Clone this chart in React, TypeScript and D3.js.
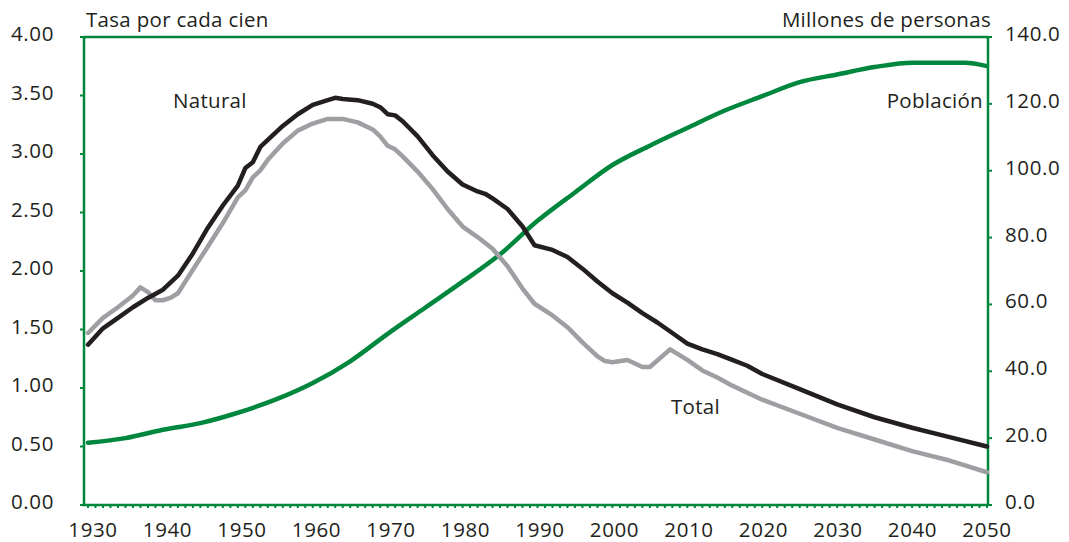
import React from "react";
import * as d3 from "d3";

const naturalYears = [1930,1932,1934,1936,1938,1940,1942,1944,1946,1948,1950,1951,1952,1953,1954,1956,1958,1960,1962,1963,1964,1966,1968,1969,1970,1971,1972,1974,1976,1978,1980,1982,1983,1984,1986,1988,1989.6,1992,1994,1996,1998,2000,2002,2004,2006,2008,2010,2012,2014,2016,2018,2020,2025,2030,2035,2040,2045,2050];
const naturalValues = [1.37,1.51,1.60,1.69,1.77,1.84,1.96,2.15,2.37,2.56,2.73,2.88,2.93,3.06,3.12,3.24,3.34,3.42,3.46,3.48,3.47,3.46,3.43,3.40,3.34,3.33,3.28,3.15,2.99,2.85,2.74,2.68,2.66,2.62,2.53,2.38,2.22,2.18,2.12,2.02,1.91,1.81,1.73,1.64,1.56,1.47,1.38,1.33,1.29,1.24,1.19,1.12,0.99,0.86,0.75,0.66,0.58,0.50];

const totalYears = [1930,1932,1934,1936,1937,1938,1939,1940,1941,1942,1944,1946,1948,1950,1951,1952,1953,1954,1956,1958,1960,1962,1964,1966,1968,1969,1970,1971,1972,1974,1976,1978,1980,1982,1984,1986,1988,1989.6,1992,1994,1996,1998,1999,2000,2002,2004,2005,2007.7,2010,2012,2014,2016,2018,2020,2025,2030,2035,2040,2045,2050];
const totalValues = [1.47,1.60,1.69,1.79,1.86,1.82,1.75,1.75,1.77,1.81,2.01,2.21,2.41,2.63,2.69,2.80,2.86,2.95,3.09,3.20,3.26,3.30,3.30,3.27,3.21,3.15,3.07,3.04,2.98,2.85,2.70,2.53,2.38,2.29,2.19,2.04,1.85,1.72,1.62,1.52,1.39,1.27,1.23,1.22,1.24,1.18,1.18,1.33,1.24,1.15,1.09,1.02,0.96,0.90,0.78,0.66,0.56,0.46,0.38,0.28];

const popYears = [1930,1935,1940,1945,1950,1955,1960,1965,1970,1975,1980,1985,1990,1995,2000,2005,2010,2015,2020,2025,2030,2035,2040,2045,2047,2050];
const popValues = [18.6,20.0,22.5,24.5,27.6,31.5,36.5,43.0,51.2,59.0,66.8,75.0,85.0,93.5,101.7,107.5,112.8,118.0,122.3,126.5,128.8,131.0,132.3,132.3,132.3,131.3];

const xTicks = [1930,1940,1950,1960,1970,1980,1990,2000,2010,2020,2030,2040,2050];
const leftTicks = [0,0.5,1,1.5,2,2.5,3,3.5,4];
const rightTicks = [0,20,40,60,80,100,120,140];

const GREEN = "#00873E";
const BLACK = "#231F20";
const GREY = "#9D9FA2";
const FONT = "'Open Sans', sans-serif";
const FS = 20.5;

export default function App() {
  const W = 1069, H = 542;
  const left = 84, right = 988, top = 37, bottom = 505;
  const x = d3.scaleLinear().domain([1930, 2050]).range([88, 987]);
  const xl = d3.scaleLinear().domain([1930, 2050]).range([93, 987]);
  const yL = d3.scaleLinear().domain([0, 4]).range([bottom, top]);
  const yR = d3.scaleLinear().domain([0, 140]).range([bottom, top]);
  const lineL = (ys: number[], vs: number[]) =>
    d3.line<number>().x((_, i) => x(ys[i])).y((v) => yL(v)).curve(d3.curveLinear)(vs) || "";
  const lineR = d3.line<number>().x((_, i) => x(popYears[i])).y((v) => yR(v)).curve(d3.curveMonotoneX)(popValues) || "";
  const yearTicks = d3.range(1930, 2051);
  return (
    <svg width={W} height={H} style={{ position: "absolute", left: 0, top: 0, background: "#fff" }} fontFamily={FONT}>
      {/* frame */}
      <line x1={left} x2={right} y1={top} y2={top} stroke={GREEN} strokeWidth={2.5} />
      <line x1={left} x2={left} y1={top} y2={bottom} stroke={GREEN} strokeWidth={2.5} />
      <line x1={right} x2={right} y1={top} y2={bottom} stroke={GREEN} strokeWidth={2.5} />
      <line x1={left - 2} x2={right} y1={bottom} y2={bottom} stroke={GREEN} strokeWidth={2.5} />
      {yearTicks.map((t) => (
        <line key={"yt" + t} x1={x(t)} x2={x(t)} y1={bottom} y2={bottom + 3} stroke={GREEN} strokeWidth={2} />
      ))}
      {leftTicks.map((t) => (
        <line key={"lt" + t} x1={left - 4} x2={left} y1={yL(t)} y2={yL(t)} stroke={GREEN} strokeWidth={2} />
      ))}
      {rightTicks.map((t) => (
        <line key={"rt" + t} x1={right} x2={right + 4} y1={yR(t)} y2={yR(t)} stroke={GREEN} strokeWidth={2} />
      ))}
      {/* tick labels */}
      {leftTicks.map((t) => (
        <text key={"ll" + t} x={54} y={yL(t) + 4} textAnchor="end" fontSize={FS} letterSpacing={0.6} fill={BLACK}>
          {t.toFixed(2)}
        </text>
      ))}
      {rightTicks.map((t) => (
        <text key={"rl" + t} x={1005} y={yR(t) + 4} textAnchor="start" fontSize={FS} letterSpacing={0.6} fill={BLACK}>
          {t.toFixed(1)}
        </text>
      ))}
      {xTicks.map((t) => (
        <text key={"xl" + t} x={xl(t)} y={537} textAnchor="middle" fontSize={FS} letterSpacing={0.6} fill={BLACK}>
          {t}
        </text>
      ))}
      {/* axis titles */}
      <text x={86} y={27} fontSize={FS} letterSpacing={0.3} fill={BLACK}>Tasa por cada cien</text>
      <text x={991} y={27} textAnchor="end" fontSize={FS} letterSpacing={0.3} fill={BLACK}>Millones de personas</text>
      {/* series */}
      <path d={lineR} fill="none" stroke={GREEN} strokeWidth={4.5} strokeLinejoin="round" strokeLinecap="round" />
      <path d={lineL(totalYears, totalValues)} fill="none" stroke={GREY} strokeWidth={4.5} strokeLinejoin="round" strokeLinecap="round" />
      <path d={lineL(naturalYears, naturalValues)} fill="none" stroke={BLACK} strokeWidth={4.5} strokeLinejoin="round" strokeLinecap="round" />
      {/* labels */}
      <text x={173} y={108} fontSize={FS} letterSpacing={0.3} fill={BLACK}>Natural</text>
      <text x={983} y={108} textAnchor="end" fontSize={FS} letterSpacing={0.3} fill={BLACK}>Población</text>
      <text x={671} y={414} fontSize={FS} letterSpacing={0.3} fill={BLACK}>Total</text>
    </svg>
  );
}
